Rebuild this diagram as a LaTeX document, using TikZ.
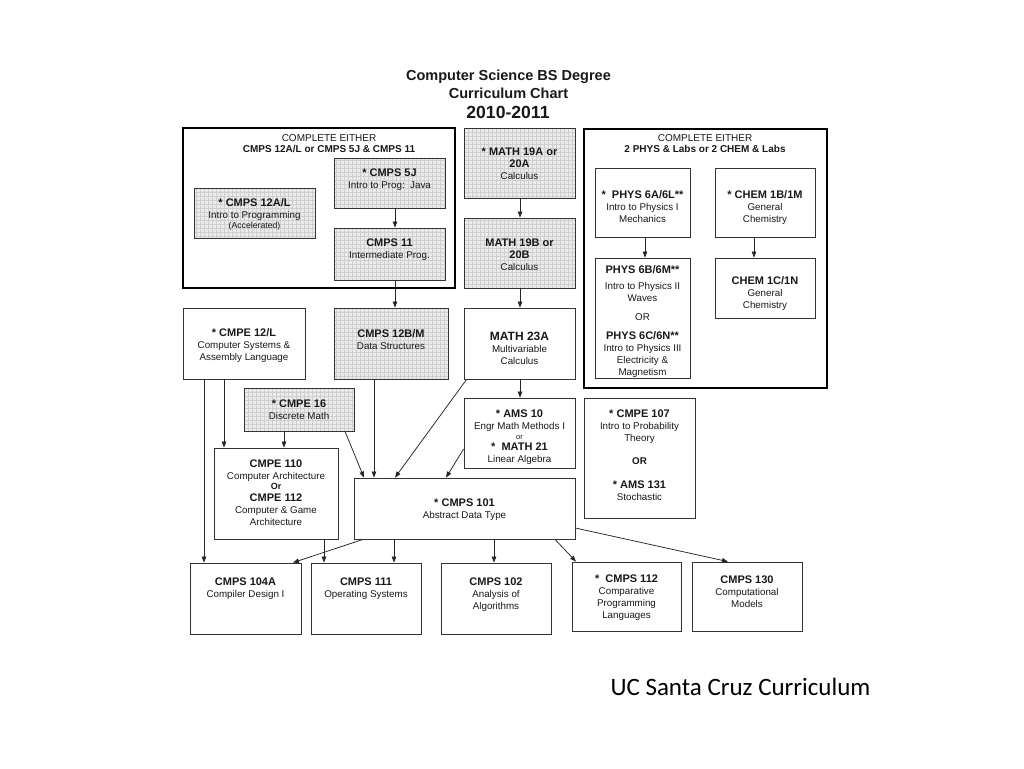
\documentclass[tikz,border=0pt]{standalone}
\usepackage{fontspec}
\setmainfont{Liberation Sans}
\newfontfamily\calibri{Carlito}
\usetikzlibrary{arrows.meta,patterns}
\pgfdeclarepatternformonly{finegrid}{\pgfqpoint{-0.2pt}{-0.2pt}}{\pgfqpoint{3.8pt}{3.8pt}}{\pgfqpoint{4pt}{4pt}}{%
  \pgfsetlinewidth{0.3pt}%
  \pgfpathmoveto{\pgfqpoint{0pt}{0pt}}\pgfpathlineto{\pgfqpoint{4pt}{0pt}}%
  \pgfpathmoveto{\pgfqpoint{0pt}{0pt}}\pgfpathlineto{\pgfqpoint{0pt}{4pt}}%
  \pgfusepath{stroke}}
\newcommand\hd{\fontsize{11}{13}\selectfont\bfseries}
\newcommand\smallt{\fontsize{8.7}{9}\selectfont}
\tikzset{
  course/.style={draw=black!80, line width=0.8pt, rectangle, inner sep=0pt},
  gridbox/.style={preaction={fill=gray!16}, pattern=finegrid, pattern color=gray!38},
  group/.style={draw=black, line width=2.6pt, rectangle, inner sep=0pt},
  txt/.style={align=center, inner sep=0pt, font=\fontsize{9.8}{12}\selectfont, text=black!90},
  grptxt/.style={align=center, inner sep=0pt, font=\fontsize{10}{11.2}\selectfont, text=black!90},
  title/.style={inner sep=0pt, font=\fontsize{14.5}{17}\selectfont\bfseries, text=black!90},
  arr/.style={-{Triangle[length=6pt,width=4.5pt]}, line width=0.75pt, draw=black!85},
}
\begin{document}
\begin{tikzpicture}[x=1pt,y=-1pt]
\useasboundingbox[fill=white] (0,0) rectangle (1024,768);

% title
\node[title] (t1) at (508.5,76.5) {Computer Science BS Degree};
\node[title] (t2) at (508.5,93.5) {Curriculum Chart};
\node[title, font=\fontsize{17.6}{20}\selectfont\bfseries] (t3) at (508,112) {2010-2011};

% left group
\node[group, minimum width=272pt, minimum height=160pt] (gL) at (319,208) {};
\node[grptxt] (gLt) at (329,143.5) {COMPLETE EITHER\\{\bfseries CMPS 12A/L or CMPS 5J \& CMPS 11}};

\node[course, gridbox, minimum width=121pt, minimum height=50pt] (c12a) at (254.5,213) {};
\node[txt] (c12at) at (254.5,214.5) {{\hd * CMPS 12A/L}\\Intro to Programming\\[-2pt]{\smallt (Accelerated)}};

\node[course, gridbox, minimum width=111pt, minimum height=50pt] (c5j) at (389.5,183) {};
\node[txt] (c5jt) at (389.5,180) {{\hd * CMPS 5J}\\Intro to Prog:\ \ Java};

\node[course, gridbox, minimum width=111pt, minimum height=52pt] (c11) at (389.5,254) {};
\node[txt] (c11t) at (389.5,250) {{\hd CMPS 11}\\Intermediate Prog.};

% math column
\node[course, gridbox, minimum width=111pt, minimum height=70pt] (m19a) at (519.5,163) {};
\node[txt] (m19at) at (519.5,164) {{\hd * MATH 19A or}\\{\hd 20A}\\Calculus};

\node[course, gridbox, minimum width=111pt, minimum height=70pt] (m19b) at (519.5,253) {};
\node[txt] (m19bt) at (519.5,255) {{\hd MATH 19B or}\\{\hd 20B}\\Calculus};

% right group
\node[group, minimum width=243pt, minimum height=259pt] (gR) at (705.5,258.5) {};
\node[grptxt] (gRt) at (705,143.5) {COMPLETE EITHER\\{\bfseries 2 PHYS \& Labs or 2 CHEM \& Labs}};

\node[course, minimum width=95pt, minimum height=69pt] (p6a) at (642.5,202.5) {};
\node[txt] (p6at) at (642.5,207) {{\hd *\ \ PHYS 6A/6L**}\\Intro to Physics I\\Mechanics};

\node[course, minimum width=100pt, minimum height=69pt] (ch1b) at (765,202.5) {};
\node[txt] (ch1bt) at (765,208) {{\hd * CHEM 1B/1M}\\General\\Chemistry};

\node[course, minimum width=95pt, minimum height=120pt] (p6b) at (642.5,318) {};
\node[txt] (p6bt) at (642.5,322) {{\hd PHYS 6B/6M**}\\[4pt]Intro to Physics II\\Waves\\[7pt]OR\\[7pt]{\hd PHYS 6C/6N**}\\Intro to Physics III\\Electricity \&\\Magnetism};

\node[course, minimum width=100pt, minimum height=60pt] (ch1c) at (765,288) {};
\node[txt] (ch1ct) at (765,293.5) {{\hd CHEM 1C/1N}\\General\\Chemistry};

% middle row
\node[course, minimum width=122pt, minimum height=71pt] (e12) at (244,343.5) {};
\node[txt] (e12t) at (244,346) {{\hd * CMPE 12/L}\\Computer Systems \&\\Assembly Language};

\node[course, gridbox, minimum width=114pt, minimum height=71pt] (c12b) at (391,343.5) {};
\node[txt] (c12bt) at (391,340) {{\hd CMPS 12B/M}\\Data Structures};

\node[course, minimum width=111pt, minimum height=71pt] (m23a) at (519.5,343.5) {};
\node[txt] (m23at) at (519.5,348) {{\fontsize{12}{14}\selectfont\bfseries MATH 23A}\\Multivariable\\Calculus};

\node[course, gridbox, minimum width=110pt, minimum height=43pt] (e16) at (299,409.5) {};
\node[txt] (e16t) at (299,409.5) {{\hd * CMPE 16}\\Discrete Math};

\node[course, minimum width=111pt, minimum height=70pt] (a10) at (519.5,433) {};
\node[txt] (a10t) at (519.5,437.5) {{\hd * AMS 10}\\Engr Math Methods I\\[-2pt]{\fontsize{7.5}{9}\selectfont or}\\[-1pt]{\hd *\ \ MATH 21}\\Linear Algebra};

\node[course, minimum width=111pt, minimum height=120pt] (e107) at (639.5,458) {};
\node[txt] (e107t) at (639.5,455.5) {{\hd * CMPE 107}\\Intro to Probability\\Theory\\[11pt]{\bfseries OR}\\[12pt]{\hd * AMS 131}\\Stochastic};

\node[course, minimum width=124pt, minimum height=91pt] (e110) at (276,493.5) {};
\node[txt] (e110t) at (276,493) {{\hd CMPE 110}\\Computer Architecture\\[-2pt]{\fontsize{9}{10}\selectfont\bfseries Or}\\{\hd CMPE 112}\\Computer \& Game\\Architecture};

\node[course, minimum width=221pt, minimum height=61pt] (c101) at (464.5,508.5) {};
\node[txt] (c101t) at (464.5,510) {{\hd * CMPS 101}\\Abstract Data Type};

% bottom row
\node[course, minimum width=111pt, minimum height=71pt] (c104) at (245.5,598.5) {};
\node[txt] (c104t) at (245.5,588.5) {{\hd CMPS 104A}\\Compiler Design I};

\node[course, minimum width=110pt, minimum height=71pt] (c111) at (366,598.5) {};
\node[txt] (c111t) at (366,588.5) {{\hd CMPS 111}\\Operating Systems};

\node[course, minimum width=110pt, minimum height=71pt] (c102) at (496,598.5) {};
\node[txt] (c102t) at (496,594.5) {{\hd CMPS 102}\\Analysis of\\Algorithms};

\node[course, minimum width=109pt, minimum height=69pt] (c112) at (626.5,596.5) {};
\node[txt] (c112t) at (626.5,598) {{\hd *\ \ CMPS 112}\\Comparative\\Programming\\Languages};

\node[course, minimum width=110pt, minimum height=69pt] (c130) at (747,596.5) {};
\node[txt] (c130t) at (747,592) {{\hd CMPS 130}\\Computational\\Models};

% footer
\node[inner sep=0pt, font=\calibri\fontsize{25}{28}\selectfont] (uc) at (740.5,687) {UC Santa Cruz Curriculum};

% connectors
\draw[arr] ([xshift=5.5pt]c5j.south) -- ([xshift=5.5pt]c11.north);
\draw[arr] ([xshift=0.5pt]m19a.south) -- ([xshift=0.5pt]m19b.north);
\draw[arr] ([xshift=5.5pt]c11.south) -- ([xshift=4pt]c12b.north);
\draw[arr] ([xshift=0.5pt]m19b.south) -- ([xshift=0.5pt]m23a.north);
\draw[arr] ([xshift=2.5pt]p6a.south) -- ([xshift=2.5pt]p6b.north);
\draw[arr] ([xshift=-11pt]ch1b.south) -- ([xshift=-11pt]ch1c.north);
\draw[arr] ([xshift=0.5pt]m23a.south) -- ([xshift=0.5pt]a10.north);
\draw[arr] ([xshift=-40pt]e12.south) -- ([xshift=-41.5pt]c104.north);
\draw[arr] ([xshift=-20pt]e12.south) -- ([xshift=-52pt]e110.north);
\draw[arr] ([xshift=-15pt]e16.south) -- ([xshift=8pt]e110.north);
\draw[arr] ([xshift=46pt]e16.south) -- ([xshift=-100.5pt]c101.north);
\draw[arr] ([xshift=-17pt]c12b.south) -- ([xshift=-90.5pt]c101.north);
\draw[arr] ([xshift=3pt]m23a.south west) -- ([xshift=-69.5pt]c101.north);
\draw[arr] ([yshift=-16pt]a10.west) -- ([xshift=-18.5pt]c101.north);
\draw[arr] ([xshift=48pt]e110.south) -- ([xshift=-42pt]c111.north);
\draw[arr] ([xshift=-101.5pt]c101.south) -- ([xshift=47.5pt]c104.north);
\draw[arr] ([xshift=-70.5pt]c101.south) -- ([xshift=28pt]c111.north);
\draw[arr] ([xshift=29.5pt]c101.south) -- ([xshift=-2pt]c102.north);
\draw[arr] ([xshift=90.5pt]c101.south) -- ([xshift=-50.5pt]c112.north);
\draw[arr] ([yshift=-19.5pt]c101.east) -- ([xshift=-19pt]c130.north);
\end{tikzpicture}
\end{document}
